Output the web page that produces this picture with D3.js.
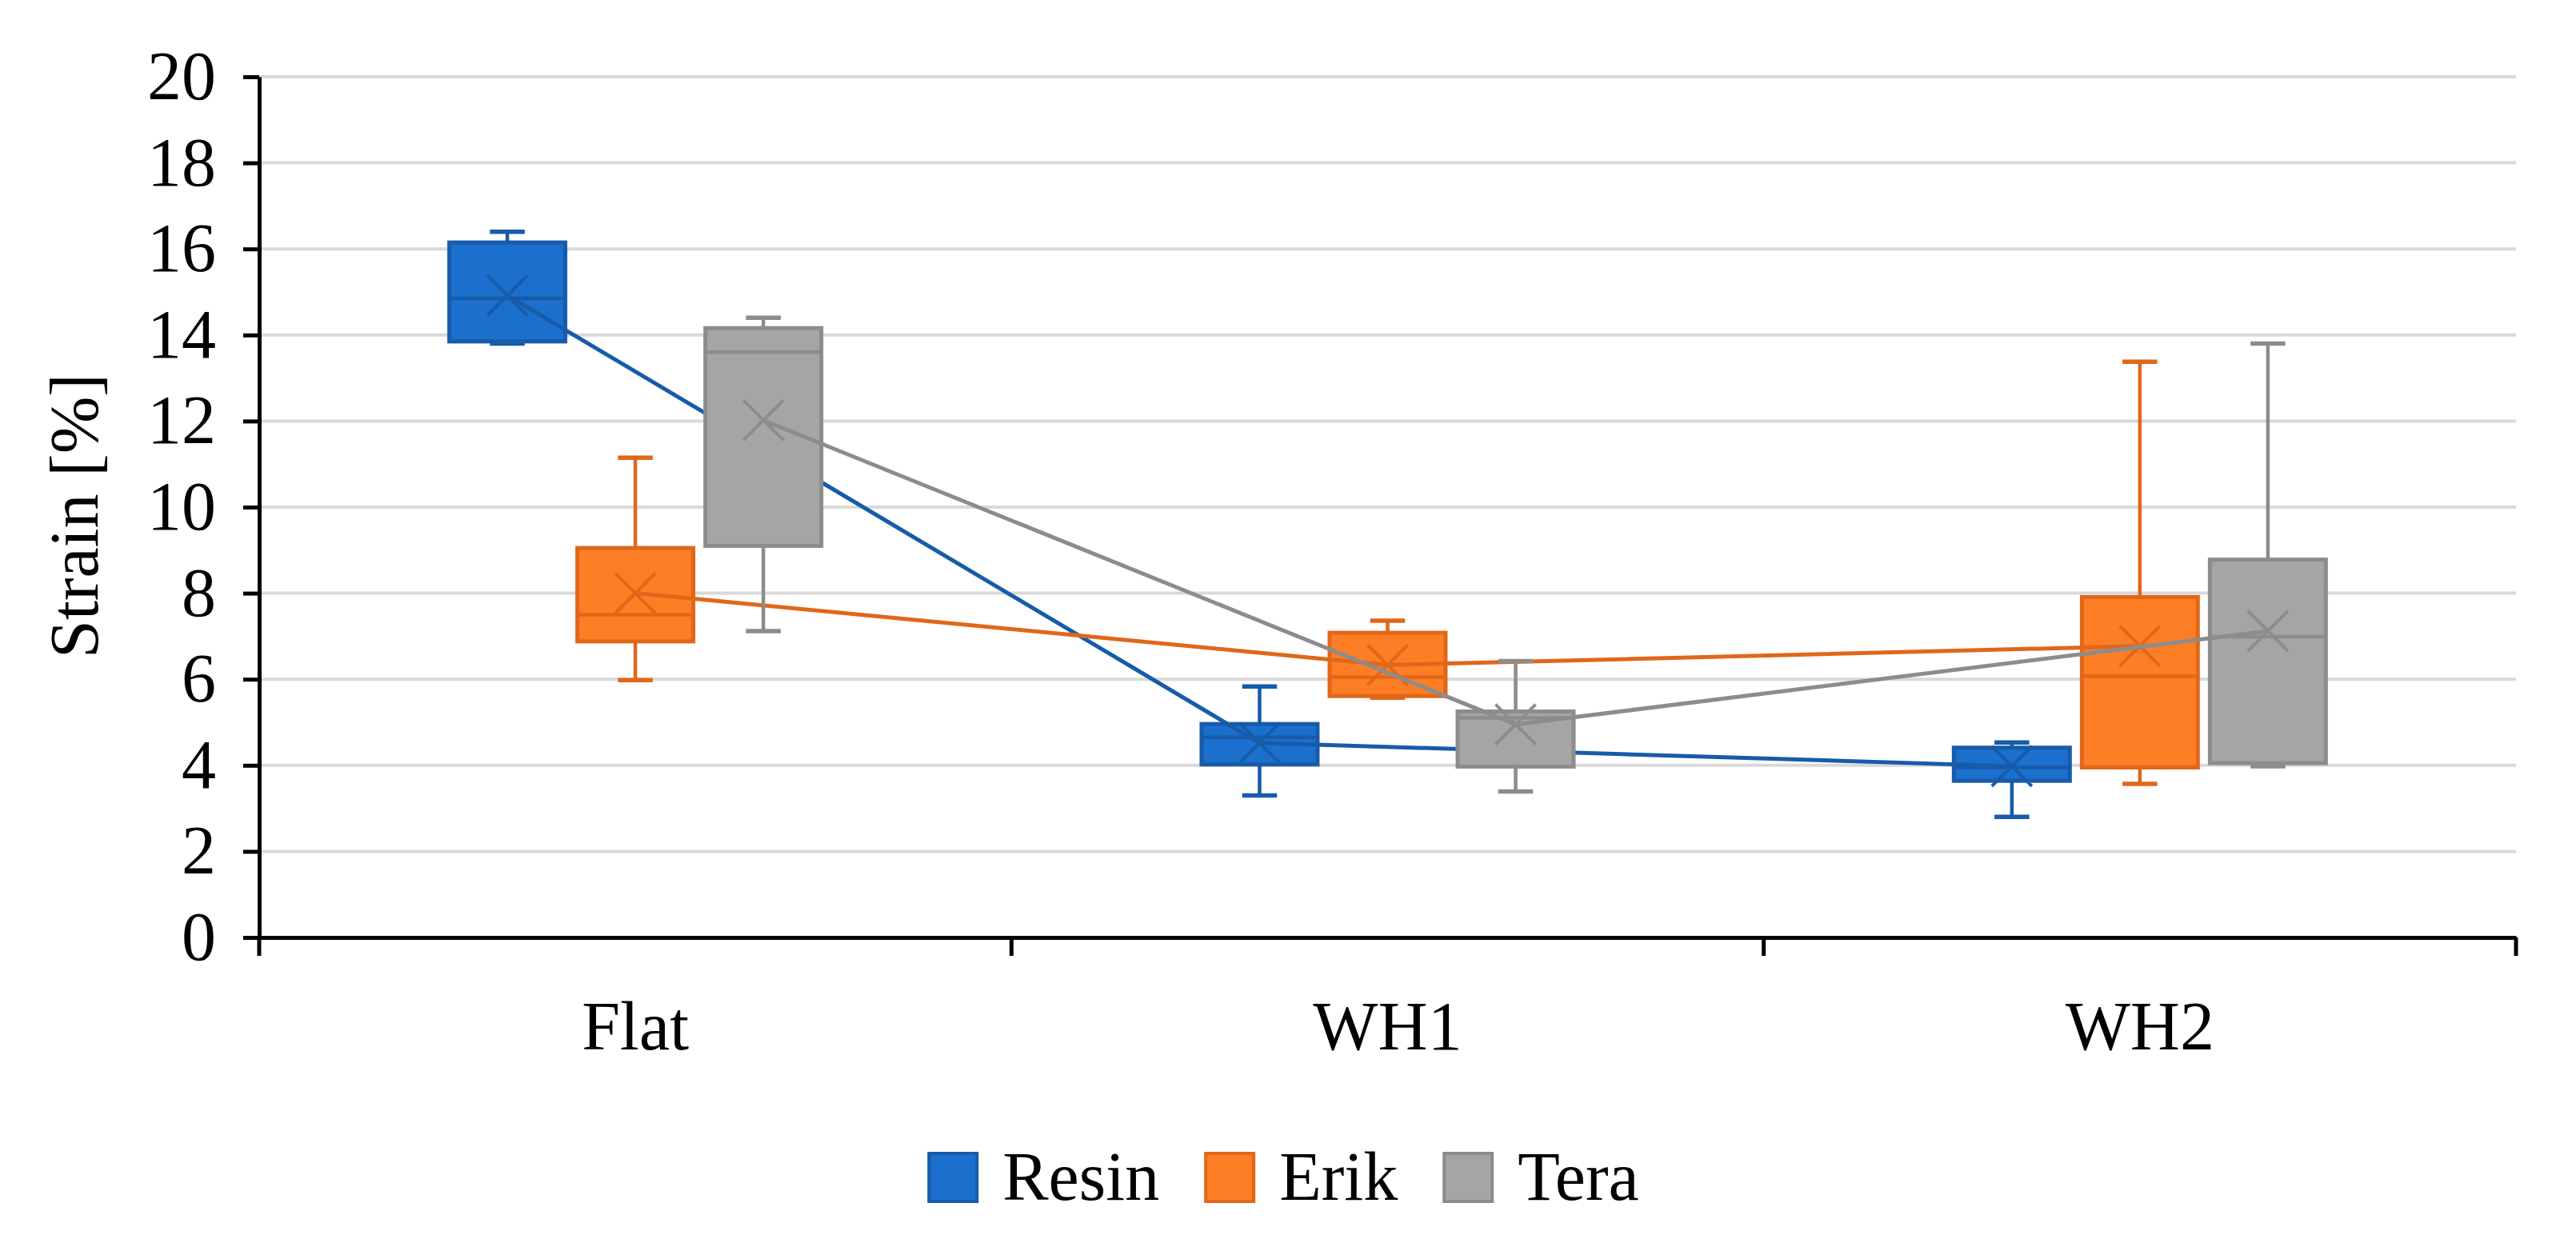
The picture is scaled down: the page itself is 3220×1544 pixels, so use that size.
<html>
    <head>
        <script src="https://d3js.org/d3.v7.min.js"></script>
        <style type="text/css">
            body {
                background: #fff;
                margin: 0;
            }
            svg text {
                font-family: "Liberation Serif", "DejaVu Serif", serif;
                fill: #000;
            }
        </style>
    </head>
    <body>
        <svg id="chart" width="3220" height="1544" xmlns="http://www.w3.org/2000/svg"></svg>

        <script type="text/javascript">
        // categories, series, ticks
        const categories = ["Flat", "WH1", "WH2"];
        const seriesNames = ["Resin", "Erik", "Tera"];
        const yTickValues = [0, 2, 4, 6, 8, 10, 12, 14, 16, 18, 20];

        // box stats, one value per category
        const resinMin    = [13.8, 3.3, 2.8];
        const resinQ1     = [13.85, 4.02, 3.64];
        const resinMedian = [14.85, 4.65, 3.95];
        const resinQ3     = [16.15, 4.96, 4.41];
        const resinMax    = [16.4, 5.83, 4.53];
        const resinMean   = [14.92, 4.52, 3.98];

        const erikMin    = [5.98, 5.57, 3.57];
        const erikQ1     = [6.88, 5.61, 3.95];
        const erikMedian = [7.5, 6.05, 6.07];
        const erikQ3     = [9.05, 7.08, 7.91];
        const erikMax    = [11.15, 7.36, 13.38];
        const erikMean   = [8.0, 6.33, 6.77];

        const teraMin    = [7.12, 3.39, 3.98];
        const teraQ1     = [9.1, 3.97, 4.05];
        const teraMedian = [13.6, 5.1, 6.99];
        const teraQ3     = [14.16, 5.25, 8.78];
        const teraMax    = [14.4, 6.42, 13.8];
        const teraMean   = [12.02, 4.95, 7.12];

        const fills   = ["#1b6fcd", "#fd7e24", "#a5a5a5"];
        const strokes = ["#175ba9", "#e0671a", "#8c8c8c"];

        const W = 3220, H = 1544;
        const plotLeft = 324, plotRight = 3145, plotTop = 96, plotBottom = 1172;
        const fontSize = "86px";

        const svg = d3.select("#chart");

        const x = d3.scaleBand().domain(categories).range([plotLeft, plotRight]);
        const xs = d3.scaleBand().domain(seriesNames)
            .range([0, x.bandwidth()])
            .paddingInner(0.094)
            .paddingOuter(1.485);
        const y = d3.scaleLinear().domain([0, 20]).range([plotBottom, plotTop]);

        const table = [
            { name: "Resin", min: resinMin, q1: resinQ1, med: resinMedian, q3: resinQ3, max: resinMax, mean: resinMean },
            { name: "Erik",  min: erikMin,  q1: erikQ1,  med: erikMedian,  q3: erikQ3,  max: erikMax,  mean: erikMean },
            { name: "Tera",  min: teraMin,  q1: teraQ1,  med: teraMedian,  q3: teraQ3,  max: teraMax,  mean: teraMean },
        ];

        // gridlines
        svg.append("g")
            .selectAll("line")
            .data(yTickValues.filter(v => v > 0))
            .join("line")
            .attr("x1", plotLeft).attr("x2", plotRight)
            .attr("y1", d => y(d)).attr("y2", d => y(d))
            .attr("stroke", "#d9d9d9")
            .attr("stroke-width", 4);

        // boxes, series after series (later series sit on top)
        const bw = xs.bandwidth();
        const cap = bw * 0.3;
        table.forEach((s, si) => {
            const g = svg.append("g");
            const cx = i => x(categories[i]) + xs(s.name) + bw / 2;
            const idx = categories.map((c, i) => i);

            // whiskers
            g.selectAll("line.wt").data(idx).join("line")
                .attr("class", "wt")
                .attr("x1", cx).attr("x2", cx)
                .attr("y1", i => y(s.max[i])).attr("y2", i => y(s.q3[i]))
                .attr("stroke", strokes[si]).attr("stroke-width", 4.5);
            g.selectAll("line.wb").data(idx).join("line")
                .attr("class", "wb")
                .attr("x1", cx).attr("x2", cx)
                .attr("y1", i => y(s.min[i])).attr("y2", i => y(s.q1[i]))
                .attr("stroke", strokes[si]).attr("stroke-width", 4.5);
            g.selectAll("line.ct").data(idx).join("line")
                .attr("class", "ct")
                .attr("x1", i => cx(i) - cap / 2).attr("x2", i => cx(i) + cap / 2)
                .attr("y1", i => y(s.max[i])).attr("y2", i => y(s.max[i]))
                .attr("stroke", strokes[si]).attr("stroke-width", 5.5);
            g.selectAll("line.cb").data(idx).join("line")
                .attr("class", "cb")
                .attr("x1", i => cx(i) - cap / 2).attr("x2", i => cx(i) + cap / 2)
                .attr("y1", i => y(s.min[i])).attr("y2", i => y(s.min[i]))
                .attr("stroke", strokes[si]).attr("stroke-width", 5.5);

            // box
            g.selectAll("rect").data(idx).join("rect")
                .attr("x", i => cx(i) - bw / 2)
                .attr("width", bw)
                .attr("y", i => y(s.q3[i]))
                .attr("height", i => y(s.q1[i]) - y(s.q3[i]))
                .attr("fill", fills[si])
                .attr("stroke", strokes[si])
                .attr("stroke-width", 5);

            // median
            g.selectAll("line.md").data(idx).join("line")
                .attr("class", "md")
                .attr("x1", i => cx(i) - bw / 2).attr("x2", i => cx(i) + bw / 2)
                .attr("y1", i => y(s.med[i])).attr("y2", i => y(s.med[i]))
                .attr("stroke", strokes[si]).attr("stroke-width", 4.5);

            // mean line
            g.append("path")
                .datum(idx)
                .attr("fill", "none")
                .attr("stroke", strokes[si])
                .attr("stroke-width", 5)
                .attr("d", d3.line().x(cx).y(i => y(s.mean[i])));

            // mean markers
            const m = 25;
            g.selectAll("path.mk").data(idx).join("path")
                .attr("class", "mk")
                .attr("fill", "none")
                .attr("stroke", strokes[si])
                .attr("stroke-width", 4)
                .attr("d", i => {
                    const px = cx(i), py = y(s.mean[i]);
                    return `M${px - m},${py - m}L${px + m},${py + m}M${px - m},${py + m}L${px + m},${py - m}`;
                });
        });

        // y axis
        const yAxis = svg.append("g")
            .attr("transform", `translate(${plotLeft},0)`)
            .call(d3.axisLeft(y).tickValues(yTickValues).tickSize(20).tickPadding(34).tickSizeOuter(0));
        yAxis.select(".domain").attr("stroke", "#000").attr("stroke-width", 5);
        yAxis.selectAll(".tick line").attr("stroke", "#000").attr("stroke-width", 5);
        yAxis.selectAll("text").style("font-size", fontSize);

        // x axis
        const xAxis = svg.append("g")
            .attr("transform", `translate(0,${plotBottom})`)
            .call(d3.axisBottom(x).tickSize(0).tickPadding(79).tickSizeOuter(0));
        xAxis.select(".domain").attr("stroke", "#000").attr("stroke-width", 5);
        xAxis.selectAll("text").style("font-size", fontSize);
        xAxis.selectAll("line.edge")
            .data(categories.map(c => x(c)).concat([plotRight]))
            .join("line")
            .attr("class", "edge")
            .attr("x1", d => d).attr("x2", d => d)
            .attr("y1", 0).attr("y2", 23)
            .attr("stroke", "#000").attr("stroke-width", 5);

        // y title
        svg.append("text")
            .attr("transform", `translate(93,645) rotate(-90)`)
            .attr("text-anchor", "middle")
            .attr("dominant-baseline", "central")
            .style("font-size", fontSize)
            .text("Strain [%]");

        // legend, centred under the chart
        const sq = 64, gapText = 30, gapItem = 58, ly = 1472;
        const legend = svg.append("g");
        const items = legend.selectAll("g").data(seriesNames).join("g");
        items.append("rect")
            .attr("width", sq - 4).attr("height", sq - 4)
            .attr("x", 2).attr("y", -sq / 2 + 2)
            .attr("fill", (d, i) => fills[i])
            .attr("stroke", (d, i) => strokes[i])
            .attr("stroke-width", 4);
        items.append("text")
            .attr("x", sq + gapText)
            .attr("dy", "0.33em")
            .style("font-size", fontSize)
            .text(d => d);
        let widths = [];
        items.each(function () { widths.push(this.getBBox().width); });
        const total = d3.sum(widths) + gapItem * (widths.length - 1);
        let cur = 1603 - total / 2;
        items.attr("transform", (d, i) => {
            const t = `translate(${cur},${ly})`;
            cur += widths[i] + gapItem;
            return t;
        });
        </script>
    </body>
</html>
